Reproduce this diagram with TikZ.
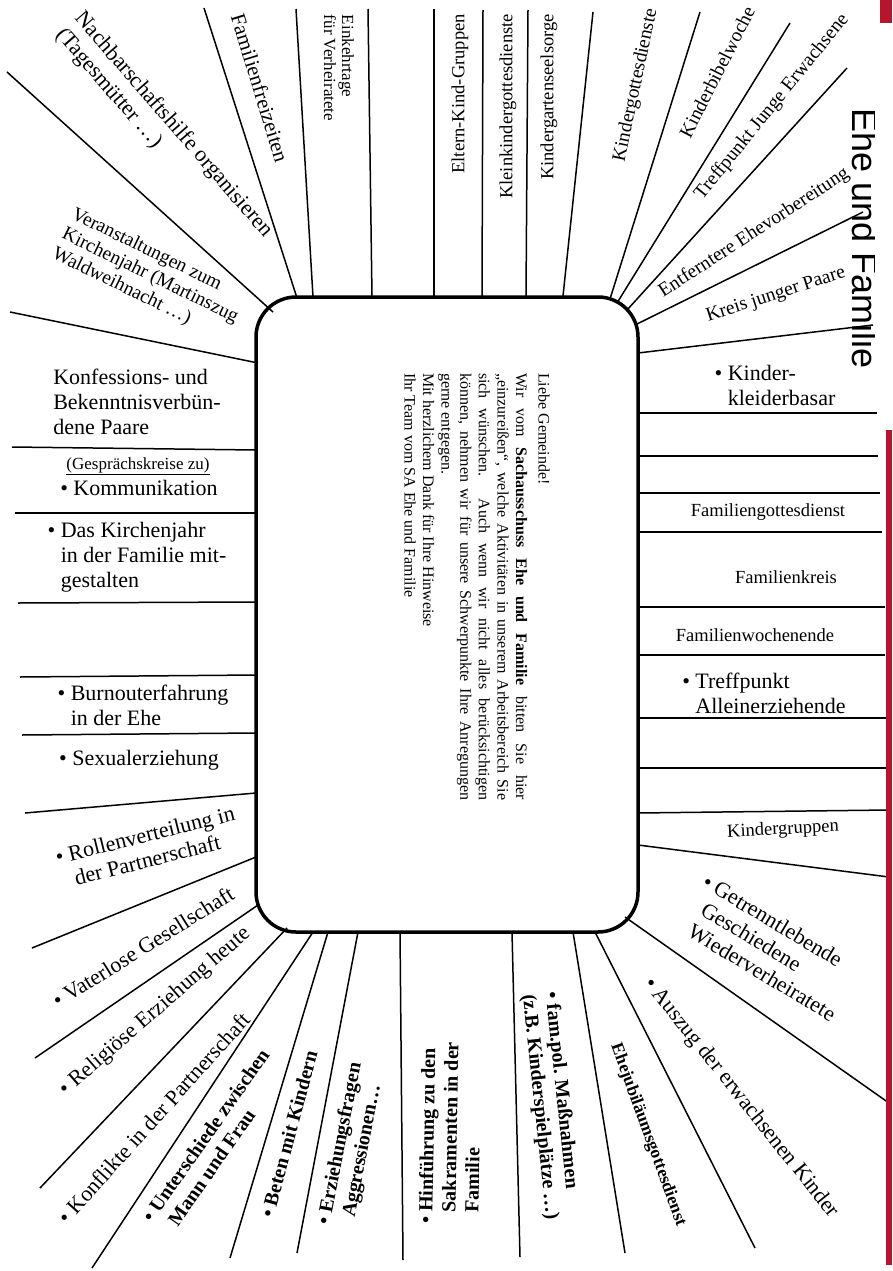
\documentclass[tikz,border=0pt]{standalone}
\usepackage{fontspec}
\setmainfont{Liberation Serif}
\newfontfamily\sansf{Liberation Sans}
\definecolor{crim}{HTML}{B5162E}
\begin{document}
\begin{tikzpicture}[x=1pt,y=-1pt,
  ray/.style={line width=1.5pt},
  lab/.style={inner sep=0pt, align=left, font=\fontsize{22}{25}\selectfont},
  labm/.style={inner sep=0pt, align=left, font=\fontsize{19.5}{22}\selectfont},
  labs/.style={inner sep=0pt, align=left, font=\fontsize{18.5}{19.5}\selectfont},
  labt/.style={inner sep=0pt, align=left, font=\fontsize{17}{18}\selectfont},
  labb/.style={inner sep=0pt, align=left, font=\bfseries\fontsize{20}{23}\selectfont},
  labbs/.style={inner sep=0pt, align=left, font=\bfseries\fontsize{17.5}{20}\selectfont},
  labg/.style={inner sep=0pt, align=left, font=\fontsize{17}{19}\selectfont},
  brieftext/.style={inner sep=0pt, text width=427pt, align=justify, font=\fontsize{16}{18.6}\selectfont}]
\path[use as bounding box, fill=white] (0,0) rectangle (892,1271);
% rays
\draw[ray] (273,312) -- (7,72);
\draw[ray] (297,298) -- (204,8);
\draw[ray] (313,297) -- (296,9);
\draw[ray] (372,297) -- (368,9);
\draw[ray] (434,296) -- (434,9);
\draw[ray] (482,296) -- (483,10);
\draw[ray] (526,296) -- (528,10);
\draw[ray] (563,296) -- (593,12);
\draw[ray] (610,299) -- (700,12);
\draw[ray] (617,303) -- (790,23);
\draw[ray] (627,310) -- (847,68);
\draw[ray] (635,325) -- (863,212);
\draw[ray] (638,353) -- (873,325);
\draw[ray] (638,413) -- (877,413);
\draw[ray] (638,456) -- (878,456);
\draw[ray] (638,493) -- (880,493);
\draw[ray] (638,532) -- (882,532);
\draw[ray] (638,607) -- (885,607);
\draw[ray] (638,655) -- (885,655);
\draw[ray] (638,718) -- (888,718);
\draw[ray] (638,768) -- (888,768);
\draw[ray] (638,813) -- (889,810);
\draw[ray] (638,845) -- (889,877);
\draw[ray] (625,917) -- (889,1103);
\draw[ray] (595,932) -- (755,1248);
\draw[ray] (573,932) -- (625,1253);
\draw[ray] (512,932) -- (520,1257);
\draw[ray] (400,932) -- (403,1260);
\draw[ray] (358,932) -- (297,1253);
\draw[ray] (328,932) -- (230,1258);
\draw[ray] (313,932) -- (92,1268);
\draw[ray] (287,928) -- (40,1188);
\draw[ray] (258,905) -- (35,1058);
\draw[ray] (256,857) -- (32,948);
\draw[ray] (256,793) -- (25,813);
\draw[ray] (256,733) -- (22,735);
\draw[ray] (256,675) -- (20,677);
\draw[ray] (256,602) -- (18,603);
\draw[ray] (256,513) -- (15,513);
\draw[ray] (256,450) -- (12,447);
\draw[ray] (258,363) -- (10,312);
% central box
\node[draw, line width=3.5pt, rounded corners=40pt, minimum width=382pt,
      minimum height=635pt, outer sep=0pt, inner sep=0pt] (box) at (447,614.5) {};
\node[brieftext, rotate=-90, anchor=north west] (brief) at (550,373) {%
\hyphenpenalty=10000 \exhyphenpenalty=10000
Liebe Gemeinde!\par\vspace{4pt}
Wir vom \textbf{Sachausschuss Ehe und Familie} bitten Sie hier\linebreak
„einzureißen“, welche Aktivitäten in unserem Arbeitsbereich Sie\linebreak
sich wünschen. Auch wenn wir nicht alles berücksichtigen\linebreak
können, nehmen wir für unsere Schwerpunkte Ihre Anregungen\linebreak
gerne entgegen.\par
Mit herzlichem Dank für Ihre Hinweise\par
Ihr Team vom SA Ehe und Familie};
% top labels
\node[lab, rotate=-49] (nb) at (164,133) {Nachbarschaftshilfe organisieren\\(Tagesmütter \dots)};
\node[labm, rotate=-26] (va) at (150,276) {Veranstaltungen zum\\Kirchenjahr (Martinszug\\Waldweihnacht \dots)};
\node[lab, font=\fontsize{21}{24}\selectfont, rotate=-73] (ff) at (260,88) {Familienfreizeiten};
\node[labt, rotate=-90] (ek) at (339,68) {Einkehrtage\\für Verheiratete};
\node[labs, rotate=90, anchor=east] (ekg) at (460,14) {Eltern-Kind-Gruppen};
\node[labs, rotate=90, anchor=east] (kkg) at (508,14) {Kleinkindergottesdienste};
\node[labs, rotate=90, anchor=east] (kgs) at (549,14) {Kindergartenseelsorge};
\node[labm, rotate=78] (kgd) at (636,85) {Kindergottesdienste};
\node[labm, rotate=63] (kbw) at (717,72) {Kinderbibelwoche};
\node[labm, rotate=51] (tje) at (772,107) {Treffpunkt Junge Erwachsene};
\node[labm, rotate=33] (eev) at (754,233) {Entferntere Ehevorbereitung};
\node[labm, rotate=18] (kjp) at (776,295) {Kreis junger Paare};
% right labels
\node[lab] (kkb) at (775,385) {\textbullet\ Kinder-\\\hphantom{\textbullet\ }kleiderbasar};
\node[labs] (fgd) at (768,512) {Familiengottesdienst};
\node[labs] (fk) at (786,577) {Familienkreis};
\node[labs] (fwe) at (755,635) {Familienwochenende};
\node[lab] (tpa) at (764,693) {\textbullet\ Treffpunkt\\\hphantom{\textbullet\ }Alleinerziehende};
\node[labs, rotate=3] (kg) at (783,830) {Kindergruppen};
\node[lab, rotate=-31] (gtl) at (775,951) {\llap{\textbullet\ }Getrenntlebende\\Geschiedene\\Wiederverheiratete};
\node[lab, rotate=-51.5] (aus) at (741,1098) {\textbullet\ Auszug der erwachsenen Kinder};
% bottom labels
\node[labbs, rotate=-70] (ejg) at (648,1135) {Ehejubiläumsgottesdienst};
\node[labb, rotate=-84] (fp) at (551,1106) {\textbullet\ fam.pol. Maßnahmen\\(z.B. Kinderspielplätze \dots)};
\node[labb, rotate=89] (hf) at (450,1127) {\llap{\textbullet\ }Hinführung zu den\\Sakramenten in der\\Familie};
\node[labb, rotate=79] (ezf) at (353,1140) {\llap{\textbullet\ }Erziehungsfragen\\Aggressionen\dots};
\node[labb, rotate=75] (bmk) at (289,1134) {\textbullet\ Beten mit Kindern};
\node[labb, rotate=55] (usz) at (215,1142) {\textbullet\ Unterschiede zwischen\\\hphantom{\textbullet\ }Mann und Frau};
\node[lab, rotate=48] (kip) at (154,1118) {\textbullet\ Konflikte in der Partnerschaft};
\node[lab, rotate=41] (rel) at (155,1012) {\textbullet\ Religiöse Erziehung heute};
\node[lab, rotate=32] (vat) at (143,947) {\textbullet\ Vaterlose Gesellschaft};
\node[lab, rotate=14] (rol) at (148,847) {\textbullet\ Rollenverteilung in\\\hphantom{\textbullet\ }der Partnerschaft};
% left labels
\node[lab] (sex) at (139,760) {\textbullet\ Sexualerziehung};
\node[lab] (bur) at (143,705) {\textbullet\ Burnouterfahrung\\\hphantom{\textbullet\ }in der Ehe};
\node[lab] (kj) at (137,557) {\textbullet\ Das Kirchenjahr\\\hphantom{\textbullet\ }in der Familie mit-\\\hphantom{\textbullet\ }gestalten};
\node[labg] (gk) at (138,466) {\underline{(Gesprächskreise zu)}};
\node[lab] (kom) at (139,488) {\textbullet\ Kommunikation};
\node[lab] (kbp) at (137,402) {Konfessions- und\\Bekenntnisverbün-\\dene Paare};
% right edge
\fill[crim] (880,0) rectangle (892,23);
\fill[crim] (886,430) rectangle (892,1265);
\begin{scope}
\clip (840,60) rectangle (874,420);
\node[rotate=-90, anchor=base west, inner sep=0pt, font=\sansf\fontsize{36}{36}\selectfont] (ehe) at (852,108) {Ehe und Familie};
\end{scope}
\end{tikzpicture}
\end{document}
